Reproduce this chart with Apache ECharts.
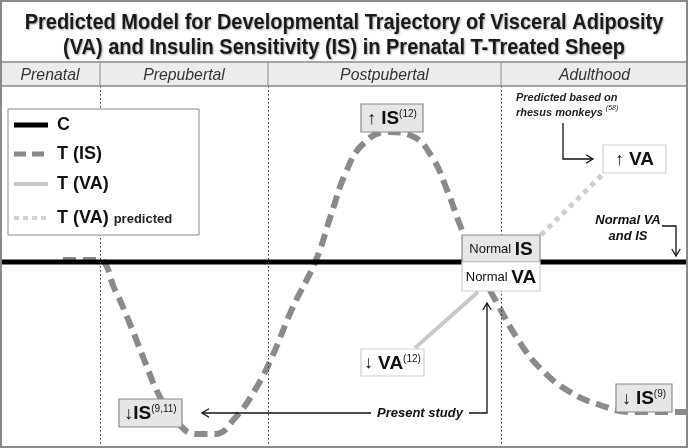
<!DOCTYPE html>
<html>
<head>
<meta charset="utf-8">
<script src="https://cdn.jsdelivr.net/npm/echarts@6/dist/echarts.min.js"></script>
<style>
  html, body { margin: 0; padding: 0; background: #fff; }
  #chart { width: 688px; height: 448px; }
</style>
</head>
<body>
<div id="chart"></div>
<script>
// x: developmental time (0..688), y: level relative to control (C = 0)
const periods = ['Prenatal', 'Prepubertal', 'Postpubertal', 'Adulthood'];
const periodBounds = [0, 100, 268, 501, 688];

const controlLine = [[0, 0], [688, 0]];
const isCurve = [
  [63, 2], [98, 2], [115, -28], [130, -62], [145, -100], [160, -135], [177, -160],
  [196, -172], [215, -172], [235, -156], [255, -128], [272, -95], [292, -47],
  [316, 2], [331, 47], [346, 90], [363, 118], [387, 130], [412, 126], [432, 105],
  [447, 72], [460, 37], [475, 0], [497, -41], [517, -76], [540, -106], [570, -130],
  [600, -143], [630, -150], [688, -150]
];
const vaCurve = [[415, -86], [478, -30]];
const vaPredicted = [[541, 27], [603, 88]];

const FONT = 'Liberation Sans';

const chart = echarts.init(document.getElementById('chart'));

// header cells
const headerTop = 62, headerBottom = 86;
const header = [];
header.push({
  type: 'rect', z: 10,
  shape: { x: 0, y: headerTop, width: 688, height: headerBottom - headerTop },
  style: { fill: '#ececec', stroke: '#8a8a8a', lineWidth: 1.5 }
});
periods.forEach((p, i) => {
  const x0 = periodBounds[i], x1 = periodBounds[i + 1];
  header.push({
    type: 'text', z: 11, x: (x0 + x1) / 2, y: (headerTop + headerBottom) / 2 + 1,
    scaleX: 0.93,
    style: { text: p, font: 'italic 17px ' + FONT, fill: '#333', align: 'center', verticalAlign: 'middle' }
  });
  if (i > 0) {
    header.push({
      type: 'line', z: 11,
      shape: { x1: x0, y1: headerTop, x2: x0, y2: headerBottom },
      style: { stroke: '#8a8a8a', lineWidth: 1 }
    });
  }
});

// legend box
const legendItems = [
  { y: 125, label: 'C', stroke: '#000', width: 5, dash: null },
  { y: 154, label: 'T (IS)', stroke: '#8a8a8a', width: 5, dash: [12, 6] },
  { y: 184, label: 'T (VA)', stroke: '#c8c8c8', width: 4, dash: null },
  { y: 218, label: 'T (VA)', stroke: '#d0d0d0', width: 4, dash: [5, 4], extra: 'predicted' }
];
const legend = [{
  type: 'rect', z: 20,
  shape: { x: 8, y: 109, width: 191, height: 126 },
  style: { fill: '#fff', stroke: '#8a8a8a', lineWidth: 1 }
}];
legendItems.forEach(it => {
  legend.push({
    type: 'line', z: 21,
    shape: { x1: 14, y1: it.y, x2: 48, y2: it.y },
    style: { stroke: it.stroke, lineWidth: it.width, lineDash: it.dash }
  });
  legend.push({
    type: 'text', z: 21, x: 57, y: it.y,
    style: {
      text: it.extra ? '{a|' + it.label + '} {b|' + it.extra + '}' : it.label,
      font: 'bold 18px ' + FONT, fill: '#111', verticalAlign: 'middle',
      rich: {
        a: { font: 'bold 18px ' + FONT, fill: '#111' },
        b: { font: 'bold 13px ' + FONT, fill: '#222', padding: [3, 0, 0, 0] }
      }
    }
  });
});

// annotation boxes
function box(x, y, w, h, fill, stroke, text, rich) {
  return [{
    type: 'rect', z: 30, shape: { x: x, y: y, width: w, height: h },
    style: { fill: fill, stroke: stroke, lineWidth: 1.2 }
  }, {
    type: 'text', z: 31, x: x + w / 2, y: y + h / 2 + 1,
    style: { text: text, align: 'center', verticalAlign: 'middle', rich: rich, fill: '#111' }
  }];
}
const richStd = {
  ar: { font: '18px ' + FONT, fill: '#111' },
  big: { font: 'bold 19px ' + FONT, fill: '#111' },
  sup: { font: '10px ' + FONT, fill: '#111', verticalAlign: 'top', padding: [0, 0, 8, 0] },
  sm: { font: '13px ' + FONT, fill: '#111' }
};
const GRAYBOX = '#e6e6e6', DARKEDGE = '#8a8a8a', LIGHTEDGE = '#cfcfcf';
let boxes = [];
boxes = boxes.concat(box(361, 104, 62, 28, GRAYBOX, DARKEDGE, '{ar|↑ }{big|IS}{sup|(12)}', richStd));
boxes = boxes.concat(box(462, 235, 78, 27, GRAYBOX, DARKEDGE, '{sm|Normal }{big|IS}', richStd));
boxes = boxes.concat(box(462, 262, 78, 29, '#fff', LIGHTEDGE, '{sm|Normal }{big|VA}', richStd));
boxes = boxes.concat(box(603, 145, 63, 28, '#fff', LIGHTEDGE, '{ar|↑ }{big|VA}', richStd));
boxes = boxes.concat(box(361, 349, 63, 27, '#fff', LIGHTEDGE, '{ar|↓ }{big|VA}{sup|(12)}', richStd));
boxes = boxes.concat(box(119, 399, 63, 28, GRAYBOX, DARKEDGE, '{ar|↓}{big|IS}{sup|(9,11)}', richStd));
boxes = boxes.concat(box(616, 384, 56, 28, GRAYBOX, DARKEDGE, '{ar|↓ }{big|IS}{sup|(9)}', richStd));

// arrows and notes
function arrowHead(x, y, dir) {
  const s = 7;
  let pts;
  if (dir === 'left') pts = [[x + s, y - s * 0.6], [x, y], [x + s, y + s * 0.6]];
  if (dir === 'right') pts = [[x - s, y - s * 0.6], [x, y], [x - s, y + s * 0.6]];
  if (dir === 'up') pts = [[x - s * 0.6, y + s], [x, y], [x + s * 0.6, y + s]];
  if (dir === 'down') pts = [[x - s * 0.6, y - s], [x, y], [x + s * 0.6, y - s]];
  return { type: 'polyline', z: 40, shape: { points: pts }, style: { stroke: '#111', lineWidth: 1.3, fill: null } };
}
function poly(points) {
  return { type: 'polyline', z: 40, shape: { points: points }, style: { stroke: '#111', lineWidth: 1.3, fill: null } };
}
const notes = [
  {
    type: 'text', z: 40, x: 516, y: 105,
    style: {
      text: '{t|Predicted based on}\n{t|rhesus monkeys }{s|(58)}',
      verticalAlign: 'middle', lineHeight: 15,
      rich: {
        t: { font: 'italic bold 11px ' + FONT, fill: '#222', lineHeight: 15 },
        s: { font: 'italic 7px ' + FONT, fill: '#222', verticalAlign: 'top', padding: [0, 0, 5, 0] }
      }
    }
  },
  poly([[563, 123], [563, 159], [592, 159]]),
  arrowHead(593, 159, 'right'),
  {
    type: 'text', z: 40, x: 628, y: 228,
    style: {
      text: 'Normal VA\nand IS', align: 'center', verticalAlign: 'middle', lineHeight: 16,
      font: 'italic bold 13px ' + FONT, fill: '#111'
    }
  },
  poly([[662, 226], [676, 226], [676, 255]]),
  arrowHead(676, 256, 'down'),
  {
    type: 'text', z: 40, x: 420, y: 413,
    style: { text: 'Present study', align: 'center', verticalAlign: 'middle', font: 'italic bold 13px ' + FONT, fill: '#111' }
  },
  poly([[202, 413], [371, 413]]),
  arrowHead(202, 413, 'left'),
  poly([[469, 413], [487, 413], [487, 304]]),
  arrowHead(487, 303, 'up')
];

// title
const titleStyle = {
  font: 'bold 20px ' + FONT, fill: '#1a1a1a', align: 'center', verticalAlign: 'middle',
  textShadowColor: 'rgba(0,0,0,0.35)', textShadowBlur: 2, textShadowOffsetX: 1, textShadowOffsetY: 1
};
const title = [
  {
    type: 'text', z: 50, x: 344, y: 23, scaleY: 1.08,
    style: Object.assign({ text: 'Predicted Model for Developmental Trajectory of Visceral Adiposity' }, titleStyle)
  },
  {
    type: 'text', z: 50, x: 344, y: 48, scaleY: 1.08,
    style: Object.assign({ text: '(VA) and Insulin Sensitivity (IS) in Prenatal T-Treated Sheep' }, titleStyle)
  },
  {
    type: 'rect', z: 60, silent: true,
    shape: { x: 1, y: 1, width: 686, height: 446 },
    style: { fill: null, stroke: '#8a8a8a', lineWidth: 2 }
  }
];

const option = {
  animation: false,
  grid: { left: 0, right: 0, top: 0, bottom: 0 },
  xAxis: { type: 'value', min: 0, max: 688, show: false },
  yAxis: { type: 'value', min: -186, max: 262, show: false },
  series: [
    {
      name: 'T (IS)', type: 'line', data: isCurve, smooth: 0.45, symbol: 'none', z: 3,
      lineStyle: { color: '#8a8a8a', width: 6, type: [13, 7], cap: 'butt' },
      markLine: {
        silent: true, symbol: 'none', label: { show: false },
        lineStyle: { color: '#333', width: 1, type: [1.5, 2.5] },
        data: periodBounds.slice(1, 4).map(x => [{ coord: [x, 176] }, { coord: [x, -186] }])
      }
    },
    {
      name: 'T (VA)', type: 'line', data: vaCurve, symbol: 'none', z: 3,
      lineStyle: { color: '#c8c8c8', width: 4 }
    },
    {
      name: 'T (VA) predicted', type: 'line', data: vaPredicted, symbol: 'none', z: 3,
      lineStyle: { color: '#cdcdcd', width: 5, type: [5, 5] }
    },
    {
      name: 'C', type: 'line', data: controlLine, symbol: 'none', z: 4,
      lineStyle: { color: '#000', width: 5 }
    }
  ],
  graphic: [].concat(header, legend, boxes, notes, title)
};
chart.setOption(option);
</script>
</body>
</html>
